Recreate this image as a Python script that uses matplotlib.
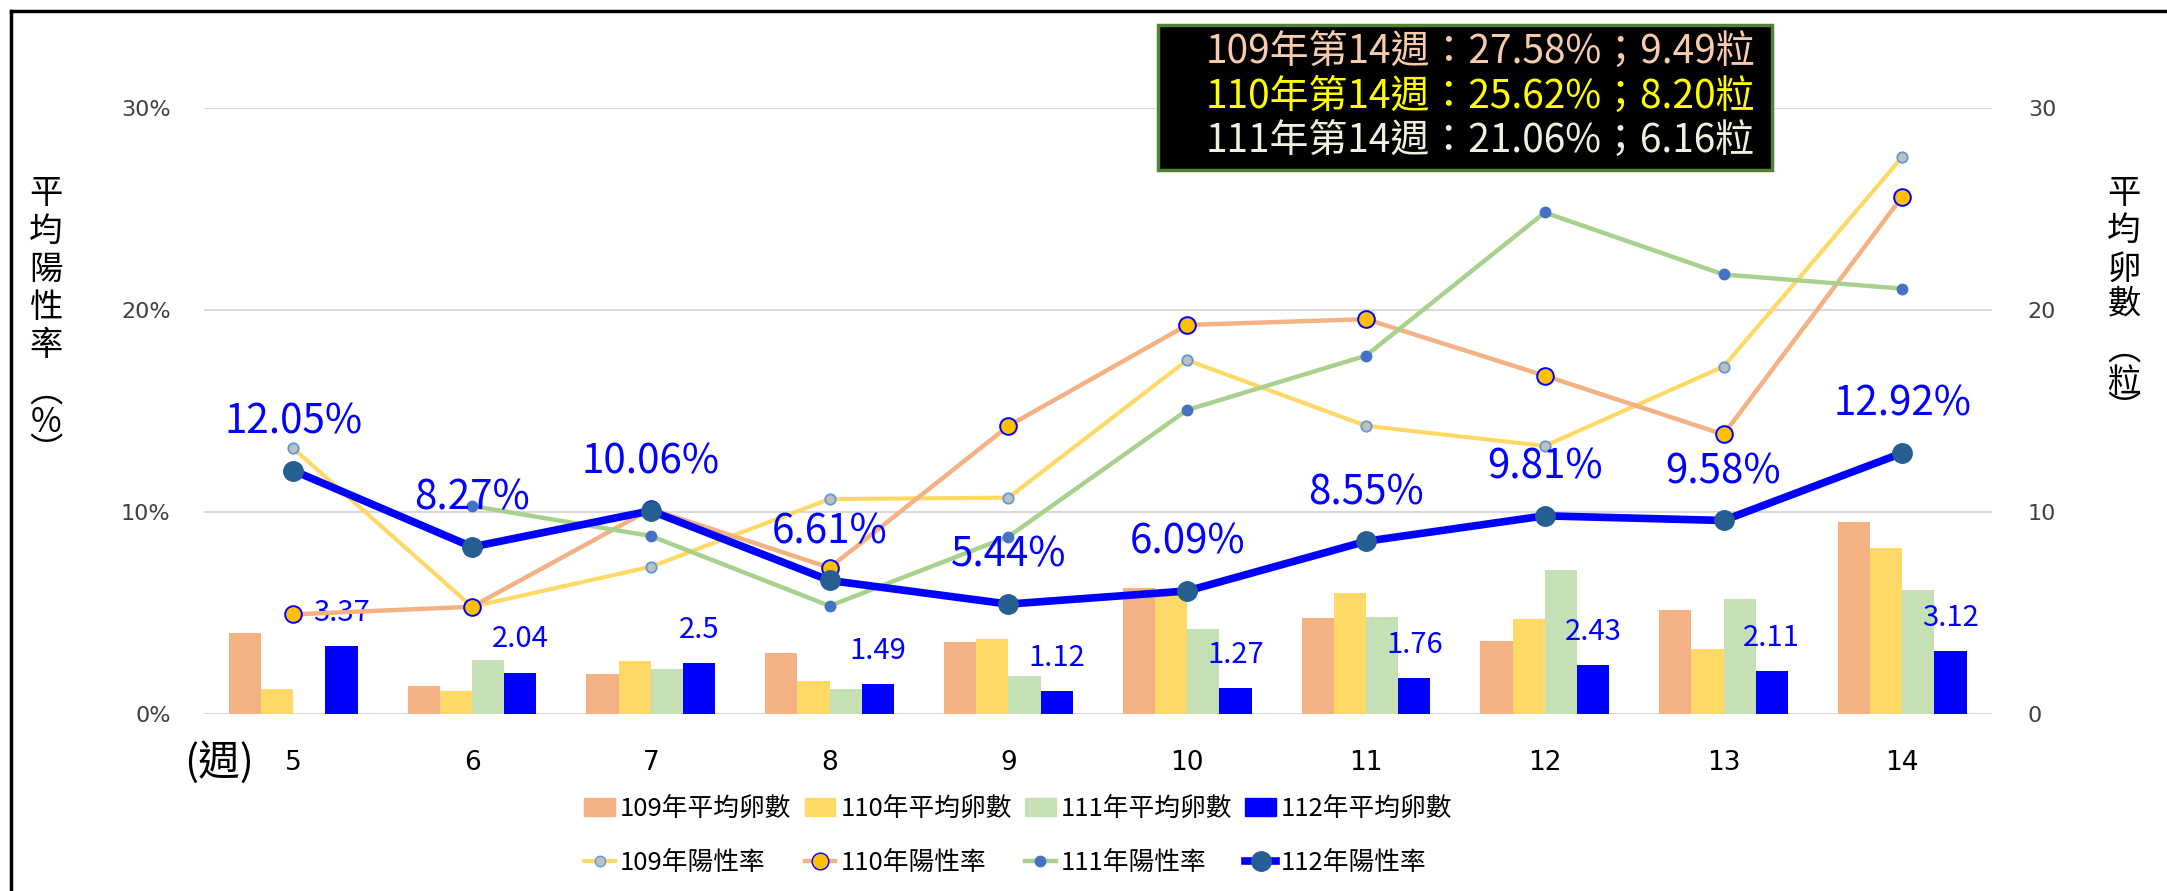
import matplotlib
matplotlib.use('Agg')
import matplotlib.pyplot as plt
import matplotlib.ticker as mticker
from matplotlib.lines import Line2D
from matplotlib.patches import Patch, Rectangle
import numpy as np

plt.rcParams['font.family'] = ['Noto Sans CJK TC', 'DejaVu Sans']

weeks = [5, 6, 7, 8, 9, 10, 11, 12, 13, 14]

# 平均卵數 (粒)
eggs_109 = [4.00, 1.36, 1.97, 3.00, 3.58, 6.22, 4.77, 3.63, 5.15, 9.49]
eggs_110 = [1.22, 1.16, 2.60, 1.63, 3.71, 6.05, 5.97, 4.69, 3.20, 8.20]
eggs_111 = [np.nan, 2.65, 2.25, 1.22, 1.88, 4.20, 4.82, 7.13, 5.70, 6.16]
eggs_112 = [3.37, 2.04, 2.50, 1.49, 1.12, 1.27, 1.76, 2.43, 2.11, 3.12]

# 陽性率 (%)
rate_109 = [13.15, 5.31, 7.29, 10.64, 10.71, 17.52, 14.27, 13.27, 17.20, 27.58]
rate_110 = [4.93, 5.31, 10.15, 7.24, 14.26, 19.26, 19.55, 16.75, 13.84, 25.62]
rate_111 = [np.nan, 10.30, 8.81, 5.35, 8.78, 15.05, 17.74, 24.83, 21.76, 21.06]
rate_112 = [12.05, 8.27, 10.06, 6.61, 5.44, 6.09, 8.55, 9.81, 9.58, 12.92]

box_lines = ['109年第14週：27.58%；9.49粒',
             '110年第14週：25.62%；8.20粒',
             '111年第14週：21.06%；6.16粒']

C109_BAR = '#F4B183'
C110_BAR = '#FFD966'
C111_BAR = '#C5E0B4'
C112_BAR = '#0000FF'
BLUE = '#0000FF'
GRID = '#D9D9D9'

fig = plt.figure(figsize=(21.67, 8.91), dpi=100)
ax = fig.add_axes([0.0941, 0.1987, 0.825, 0.680])
ax2 = ax.twinx()

x = np.arange(len(weeks))
w = 0.18
ax.bar(x - 1.5 * w, eggs_109, w, color=C109_BAR, zorder=2)
ax.bar(x - 0.5 * w, eggs_110, w, color=C110_BAR, zorder=2)
ax.bar(x + 0.5 * w, eggs_111, w, color=C111_BAR, zorder=2)
ax.bar(x + 1.5 * w, eggs_112, w, color=C112_BAR, zorder=2)
for xi, v in zip(x, eggs_112):
    ax.annotate(f'{v:g}', (xi + 1.5 * w, v), xytext=(0, 24),
                textcoords='offset points', ha='center', va='center',
                fontsize=21, color=BLUE, zorder=5)

r = lambda s: [v / 100 for v in s]
ax2.plot(x, r(rate_109), color='#FFD966', lw=3, marker='o', ms=7.5,
         mfc='#BFBFBF', mec='#5B9BD5', mew=1.3, zorder=3)
ax2.plot(x, r(rate_110), color='#F4B183', lw=3.2, marker='o', ms=12,
         mfc='#FFC000', mec='#0000FF', mew=1.4, zorder=3)
ax2.plot(x, r(rate_111), color='#A9D18E', lw=3.2, marker='o', ms=7.5,
         mfc='#4472C4', mec='#4472C4', zorder=3)
ax2.plot(x, r(rate_112), color=BLUE, lw=5.5, marker='o', ms=14,
         mfc='#255E91', mec='#255E91', zorder=4)
for xi, v in zip(x, rate_112):
    ax2.annotate(f'{v:.2f}%', (xi, v / 100), xytext=(0, 35),
                 textcoords='offset points', ha='center', va='center',
                 fontsize=29, color=BLUE, zorder=6)

ax.set_xlim(-0.5, len(weeks) - 0.5)
ax.set_ylim(0, 30)
ax2.set_ylim(0, 0.30)
ax.yaxis.tick_right()
ax2.yaxis.tick_left()
ax.set_yticks([0, 10, 20, 30])
ax2.set_yticks([0, 0.1, 0.2, 0.3])
ax2.yaxis.set_major_formatter(mticker.FuncFormatter(lambda v, p: f'{v * 100:.0f}%'))
ax.set_xticks(x)
ax.set_xticklabels([str(wk) for wk in weeks])
for a in (ax, ax2):
    for s in a.spines.values():
        s.set_visible(False)
ax.tick_params(axis='x', length=0, pad=26, labelsize=19, labelcolor='black')
ax.tick_params(axis='y', length=0, pad=26, labelsize=16, labelcolor='#404040')
ax2.tick_params(axis='y', length=0, pad=24, labelsize=16, labelcolor='#404040')
for t in ax.get_xticklabels() + ax.get_yticklabels() + ax2.get_yticklabels():
    t.set_family('DejaVu Sans')
ax.set_axisbelow(True)
ax.grid(axis='y', color=GRID, lw=1.5, zorder=0)

fig.text(0.101, 0.1437, '(週)', fontsize=30, ha='center', va='center')

# vertical axis titles
left_chars = ['平', '均', '陽', '性', '率', '︵', '%', '︶']
left_y = [193, 231, 269, 307, 345, 392, 422, 452]
for ch, yy in zip(left_chars, left_y):
    fig.text(46 / 2167, 1 - yy / 891, ch, fontsize=24, ha='center', va='center')
right_chars = ['平', '均', '卵', '數', '︵', '粒', '︶']
right_y = [194, 230, 269, 304, 350, 383, 410]
for ch, yy in zip(right_chars, right_y):
    fig.text(2124 / 2167, 1 - yy / 891, ch, fontsize=24, ha='center', va='center')

# summary box
fig.patches.append(Rectangle((1158 / 2167, 1 - 170 / 891), 614 / 2167, 145 / 891,
                             transform=fig.transFigure, facecolor='black',
                             edgecolor='#548235', lw=2.5, zorder=10))
box_colors = ['#F8CBAD', '#FFFF00', '#F0F0DC']
for line, col, yy in zip(box_lines, box_colors, [52, 97, 141]):
    fig.text(1206 / 2167, 1 - yy / 891, line, fontsize=28, color=col,
             ha='left', va='center', zorder=11)

# outer frame (top and left only)
fig.add_artist(Line2D([11 / 2167, 11 / 2167], [0, 1 - 11 / 891], color='black',
                      lw=2.5, transform=fig.transFigure))
fig.add_artist(Line2D([11 / 2167, 1], [1 - 11 / 891, 1 - 11 / 891], color='black',
                      lw=2.5, transform=fig.transFigure))

handles = [
    Patch(color=C109_BAR, label='109年平均卵數'),
    Line2D([], [], color='#FFD966', lw=3, marker='o', ms=7.5, mfc='#BFBFBF',
           mec='#5B9BD5', label='109年陽性率'),
    Patch(color=C110_BAR, label='110年平均卵數'),
    Line2D([], [], color='#F4B183', lw=3.2, marker='o', ms=12, mfc='#FFC000',
           mec='#0000FF', label='110年陽性率'),
    Patch(color=C111_BAR, label='111年平均卵數'),
    Line2D([], [], color='#A9D18E', lw=3.2, marker='o', ms=7.5, mfc='#4472C4',
           mec='#4472C4', label='111年陽性率'),
    Patch(color=C112_BAR, label='112年平均卵數'),
    Line2D([], [], color=BLUE, lw=5.5, marker='o', ms=14, mfc='#255E91',
           mec='#255E91', label='112年陽性率'),
]
fig.legend(handles=handles, loc='center', bbox_to_anchor=(0.470, 0.0615), ncol=4,
           frameon=False, fontsize=18.5, handlelength=1.2, handletextpad=0.2,
           columnspacing=0.5, labelspacing=1.1)

fig.savefig('out.png', dpi=100)
